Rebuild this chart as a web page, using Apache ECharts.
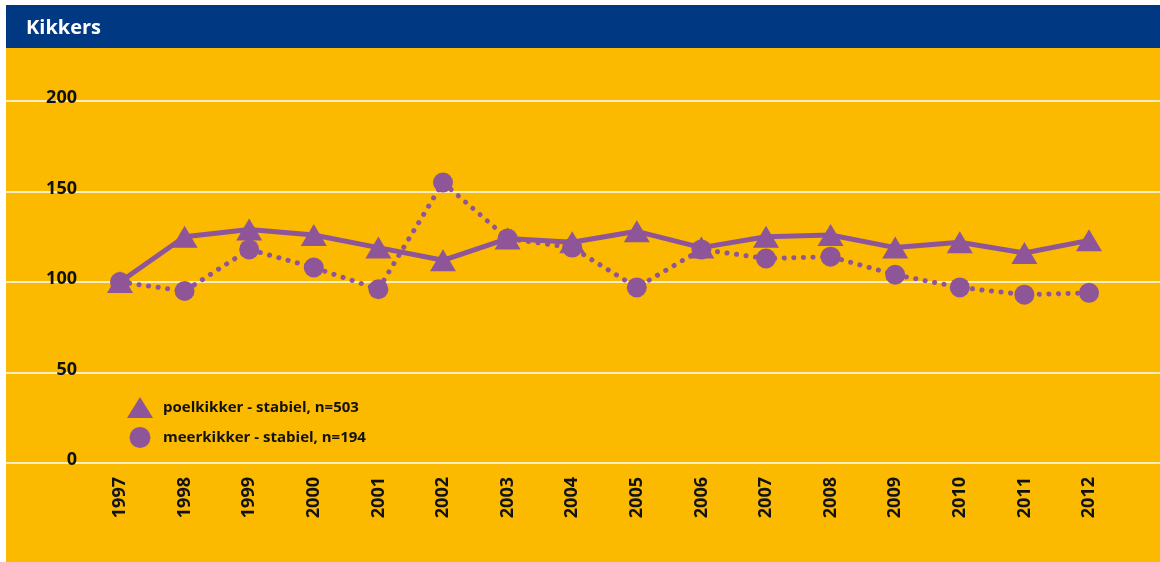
<!DOCTYPE html>
<html>
<head>
<meta charset="utf-8">
<script src="https://cdn.jsdelivr.net/npm/echarts@6/dist/echarts.min.js"></script>
<style>
  html, body { margin: 0; padding: 0; background: #fff; }
  #chart { position: absolute; left: 6px; top: 5px; width: 1154px; height: 557px; }
</style>
</head>
<body>
<div id="chart"></div>
<script>
const years = ['1997', '1998', '1999', '2000', '2001', '2002', '2003', '2004',
  '2005', '2006', '2007', '2008', '2009', '2010', '2011', '2012']
const poelkikker = [100, 125, 129, 126, 119, 112, 124, 122, 128, 119, 125, 126, 119, 122, 116, 123]
const meerkikker = [100, 95, 118, 108, 96, 155, 124, 119, 97, 118, 113, 114, 104, 97, 93, 94]
const yTicks = { min: 0, max: 200, interval: 50 }
const poelName = 'poelkikker - stabiel, n=503'
const meerName = 'meerkikker - stabiel, n=194'

const purple = '#8f5599'
const font = '"Open Sans", "Noto Sans", sans-serif'

const chart = echarts.init(document.getElementById('chart'))
chart.setOption({
  backgroundColor: '#fbba00',
  animation: false,
  textStyle: { fontFamily: font },
  title: {
    text: 'Kikkers',
    left: 20,
    top: 13,
    padding: 0,
    textStyle: { color: '#fff', fontSize: 20, fontWeight: 'bold', fontFamily: font }
  },
  graphic: [{
    type: 'rect',
    left: 0,
    top: 0,
    z: -1,
    shape: { width: 1154, height: 43 },
    style: { fill: '#003882' }
  }],
  legend: {
    orient: 'vertical',
    left: 116,
    top: 387,
    itemWidth: 26,
    itemHeight: 21,
    itemGap: 9,
    textStyle: { color: '#111', fontSize: 15, fontWeight: 'bold', padding: [0, 0, 0, 5] },
    data: [
      { name: poelName, icon: 'triangle' },
      { name: meerName, icon: 'circle' }
    ]
  },
  grid: [
    { left: 0, right: 0, top: 96, bottom: 99 },
    { left: 114, right: 71, top: 96, bottom: 99 }
  ],
  xAxis: [
    { gridIndex: 0, type: 'value', show: false },
    {
      gridIndex: 1,
      type: 'category',
      data: years,
      boundaryGap: false,
      axisLine: { show: false },
      axisTick: { show: false },
      axisLabel: {
        rotate: 90,
        margin: 14,
        color: '#111',
        fontSize: 18,
        fontWeight: 'bold',
        interval: 0
      }
    }
  ],
  yAxis: [
    {
      gridIndex: 0,
      type: 'value',
      min: yTicks.min,
      max: yTicks.max,
      interval: yTicks.interval,
      axisLine: { show: false },
      axisTick: { show: false },
      splitLine: { lineStyle: { color: '#fff', width: 1.5 } },
      axisLabel: {
        inside: true,
        margin: 71,
        align: 'right',
        verticalAlign: 'bottom',
        color: '#111',
        fontSize: 18,
        fontWeight: 'bold',
        lineHeight: 6
      }
    },
    {
      gridIndex: 1,
      type: 'value',
      min: yTicks.min,
      max: yTicks.max,
      interval: yTicks.interval,
      show: false
    }
  ],
  series: [
    {
      name: poelName,
      type: 'line',
      xAxisIndex: 1,
      yAxisIndex: 1,
      data: poelkikker,
      symbol: 'triangle',
      symbolSize: [26, 22],
      itemStyle: { color: purple },
      lineStyle: { color: purple, width: 5 }
    },
    {
      name: meerName,
      type: 'line',
      xAxisIndex: 1,
      yAxisIndex: 1,
      data: meerkikker,
      symbol: 'circle',
      symbolSize: 20,
      itemStyle: { color: purple },
      lineStyle: { color: purple, width: 5, type: [0.1, 9.5], cap: 'round' }
    }
  ]
})
</script>
</body>
</html>
